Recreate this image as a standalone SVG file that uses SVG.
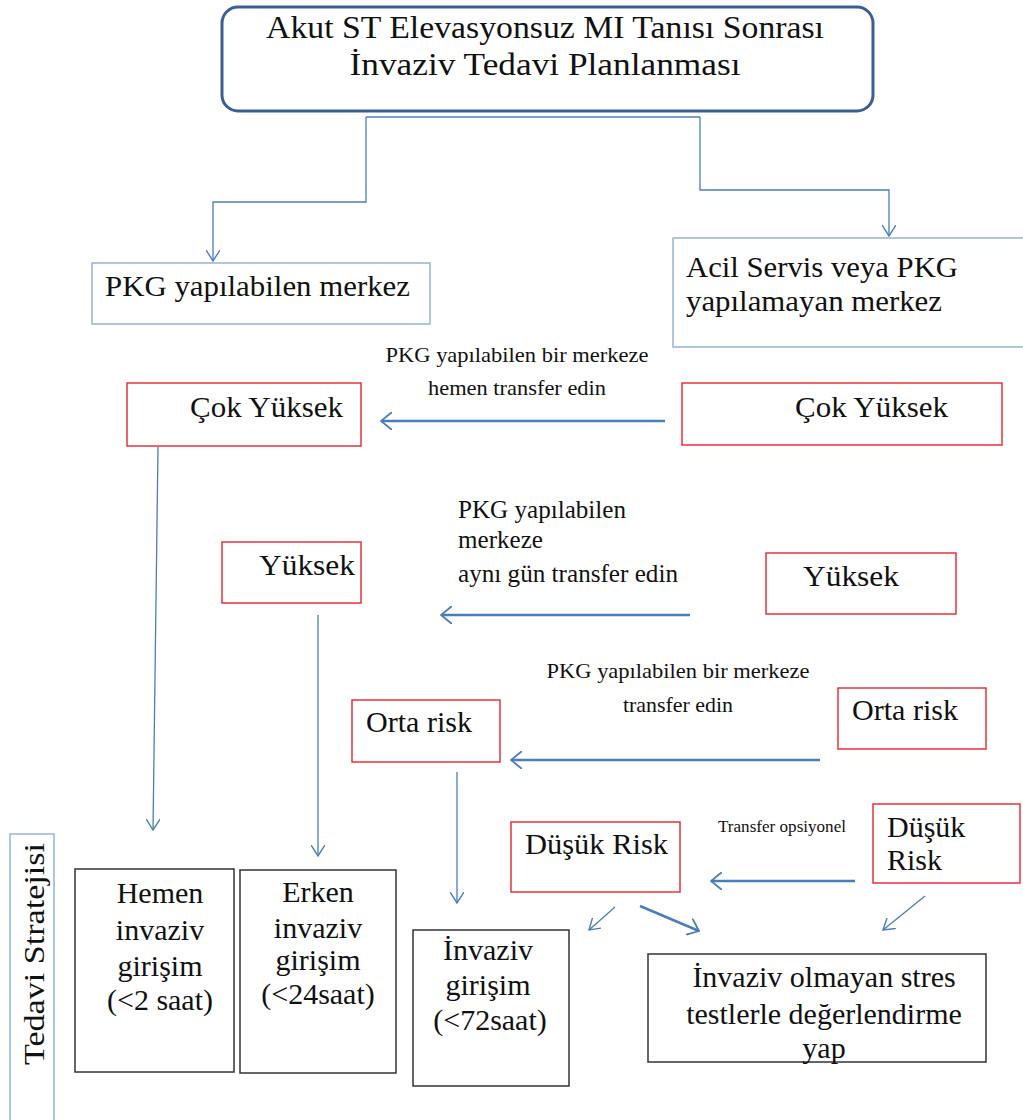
<svg xmlns="http://www.w3.org/2000/svg" width="1023" height="1120" viewBox="0 0 1023 1120" font-family="'Liberation Serif', 'Times New Roman', Times, serif">
  <style>
    text { fill: #111; }
    .node { font-size: 30px; }
    .lbl { font-size: 22px; }
    .mid { text-anchor: middle; }
    .red { fill: #fff; stroke: #e8323a; stroke-width: 1.5; }
    .lblue { fill: #fff; stroke: #95b3d7; stroke-width: 1.5; }
    .dark { fill: #fff; stroke: #333; stroke-width: 1.5; }
    .thin { fill: none; stroke: #4a7ebb; stroke-width: 1.3; marker-end: url(#head); }
    .thick { fill: none; stroke: #4a7ebb; stroke-width: 2.5; marker-end: url(#headBig); }
  </style>
  <defs>
    <marker id="head" markerUnits="userSpaceOnUse" viewBox="0 0 12 14" refX="11" refY="7" markerWidth="12" markerHeight="14" orient="auto">
      <path d="M0,0 L11,7 L0,14" fill="none" stroke="#4a7ebb" stroke-width="1.4"/>
    </marker>
    <marker id="headBig" markerUnits="userSpaceOnUse" viewBox="0 0 12 18" refX="11" refY="9" markerWidth="12" markerHeight="18" orient="auto">
      <path d="M0,0 L11,9 L0,18" fill="none" stroke="#4a7ebb" stroke-width="1.8"/>
    </marker>
  </defs>

  <rect width="1023" height="1120" fill="#fff"/>

  <!-- connectors -->
  <g id="connectors">
    <path class="thin" d="M366,117 H700 M366,117 V202 H213 V261"/>
    <path class="thin" d="M700,117 V190 H889 V236"/>
    <path class="thick" d="M665,421 H381"/>
    <path class="thin" d="M158,447 L153,830"/>
    <path class="thick" d="M690,615 H441"/>
    <path class="thin" d="M318,615 V856"/>
    <path class="thick" d="M820,760 H511"/>
    <path class="thin" d="M457,772 V903"/>
    <path class="thick" d="M855,881 H711"/>
    <path class="thin" d="M615,907 L589,930"/>
    <path class="thick" d="M640,906 L699,931"/>
    <path class="thin" d="M925,896 L883,930"/>
  </g>

  <!-- title -->
  <g id="title">
    <rect x="222" y="7" width="651" height="104" rx="16" fill="#fff" stroke="#3b5f95" stroke-width="3"/>
    <text class="mid" x="545" y="38" font-size="32" textLength="558" lengthAdjust="spacingAndGlyphs">Akut ST Elevasyonsuz MI Tanısı Sonrası</text>
    <text class="mid" x="545" y="75" font-size="32" textLength="391" lengthAdjust="spacingAndGlyphs">İnvaziv Tedavi  Planlanması</text>
  </g>

  <!-- centre types -->
  <g id="pkg-center">
    <rect class="lblue" x="92" y="263" width="338" height="61"/>
    <text class="node" x="105" y="296" textLength="305" lengthAdjust="spacingAndGlyphs">PKG yapılabilen merkez</text>
  </g>
  <g id="er-center">
    <rect class="lblue" x="673" y="238" width="355" height="109"/>
    <text class="node" x="686" y="277" textLength="272" lengthAdjust="spacingAndGlyphs">Acil Servis veya PKG</text>
    <text class="node" x="686" y="311" textLength="256" lengthAdjust="spacingAndGlyphs">yapılamayan merkez</text>
  </g>

  <!-- transfer labels -->
  <g id="label-very-high">
    <text class="lbl mid" x="517" y="362" textLength="263" lengthAdjust="spacingAndGlyphs">PKG yapılabilen bir merkeze</text>
    <text class="lbl mid" x="517" y="395" textLength="178" lengthAdjust="spacingAndGlyphs">hemen  transfer edin</text>
  </g>
  <g id="label-high">
    <text x="458" y="518" font-size="25" textLength="168" lengthAdjust="spacingAndGlyphs">PKG yapılabilen</text>
    <text x="458" y="548" font-size="25" textLength="85" lengthAdjust="spacingAndGlyphs">merkeze</text>
    <text x="458" y="582" font-size="25" textLength="220" lengthAdjust="spacingAndGlyphs">aynı gün transfer edin</text>
  </g>
  <g id="label-mid">
    <text class="lbl mid" x="678" y="678" textLength="263" lengthAdjust="spacingAndGlyphs">PKG yapılabilen bir merkeze</text>
    <text class="lbl mid" x="678" y="712" textLength="110" lengthAdjust="spacingAndGlyphs">transfer edin</text>
  </g>
  <g id="label-low">
    <text x="718" y="832" font-size="17" textLength="128" lengthAdjust="spacingAndGlyphs">Transfer opsiyonel</text>
  </g>

  <!-- risk groups -->
  <g id="very-high-left">
    <rect class="red" x="127" y="383" width="234" height="63"/>
    <text class="node" x="190" y="417" textLength="153" lengthAdjust="spacingAndGlyphs">Çok Yüksek</text>
  </g>
  <g id="very-high-right">
    <rect class="red" x="682" y="383" width="320" height="62"/>
    <text class="node" x="795" y="417" textLength="153" lengthAdjust="spacingAndGlyphs">Çok Yüksek</text>
  </g>
  <g id="high-left">
    <rect class="red" x="222" y="542" width="139" height="61"/>
    <text class="node" x="259" y="575" textLength="96" lengthAdjust="spacingAndGlyphs">Yüksek</text>
  </g>
  <g id="high-right">
    <rect class="red" x="766" y="553" width="190" height="61"/>
    <text class="node" x="803" y="586" textLength="96" lengthAdjust="spacingAndGlyphs">Yüksek</text>
  </g>
  <g id="mid-left">
    <rect class="red" x="352" y="700" width="148" height="62"/>
    <text class="node" x="366" y="732" textLength="106" lengthAdjust="spacingAndGlyphs">Orta risk</text>
  </g>
  <g id="mid-right">
    <rect class="red" x="838" y="688" width="148" height="61"/>
    <text class="node" x="852" y="720" textLength="106" lengthAdjust="spacingAndGlyphs">Orta risk</text>
  </g>
  <g id="low-left">
    <rect class="red" x="511" y="822" width="169" height="70"/>
    <text class="node" x="525" y="854" textLength="143" lengthAdjust="spacingAndGlyphs">Düşük Risk</text>
  </g>
  <g id="low-right">
    <rect class="red" x="873" y="804" width="147" height="79"/>
    <text class="node" x="887" y="837">Düşük</text>
    <text class="node" x="887" y="870">Risk</text>
  </g>

  <!-- strategy side label -->
  <g id="strategy">
    <rect class="lblue" x="10" y="834" width="44" height="290"/>
    <text class="node mid" transform="translate(44,954) rotate(-90)" textLength="222" lengthAdjust="spacingAndGlyphs">Tedavi Stratejisi</text>
  </g>

  <!-- treatment outcomes -->
  <g id="immediate">
    <rect class="dark" x="75" y="869" width="159" height="203"/>
    <text class="node mid" x="160" y="903">Hemen</text>
    <text class="node mid" x="160" y="940">invaziv</text>
    <text class="node mid" x="160" y="976">girişim</text>
    <text class="node mid" x="160" y="1010">(&lt;2 saat)</text>
  </g>
  <g id="early">
    <rect class="dark" x="240" y="870" width="156" height="203"/>
    <text class="node mid" x="318" y="902">Erken</text>
    <text class="node mid" x="318" y="938">invaziv</text>
    <text class="node mid" x="318" y="970">girişim</text>
    <text class="node mid" x="318" y="1004">(&lt;24saat)</text>
  </g>
  <g id="invasive">
    <rect class="dark" x="413" y="930" width="156" height="156"/>
    <text class="node mid" x="488" y="960">İnvaziv</text>
    <text class="node mid" x="488" y="995">girişim</text>
    <text class="node mid" x="490" y="1030">(&lt;72saat)</text>
  </g>
  <g id="noninvasive">
    <rect class="dark" x="648" y="954" width="338" height="108"/>
    <text class="node mid" x="824" y="987">İnvaziv olmayan stres</text>
    <text class="node mid" x="824" y="1024">testlerle değerlendirme</text>
    <text class="node mid" x="824" y="1058">yap</text>
  </g>
</svg>
